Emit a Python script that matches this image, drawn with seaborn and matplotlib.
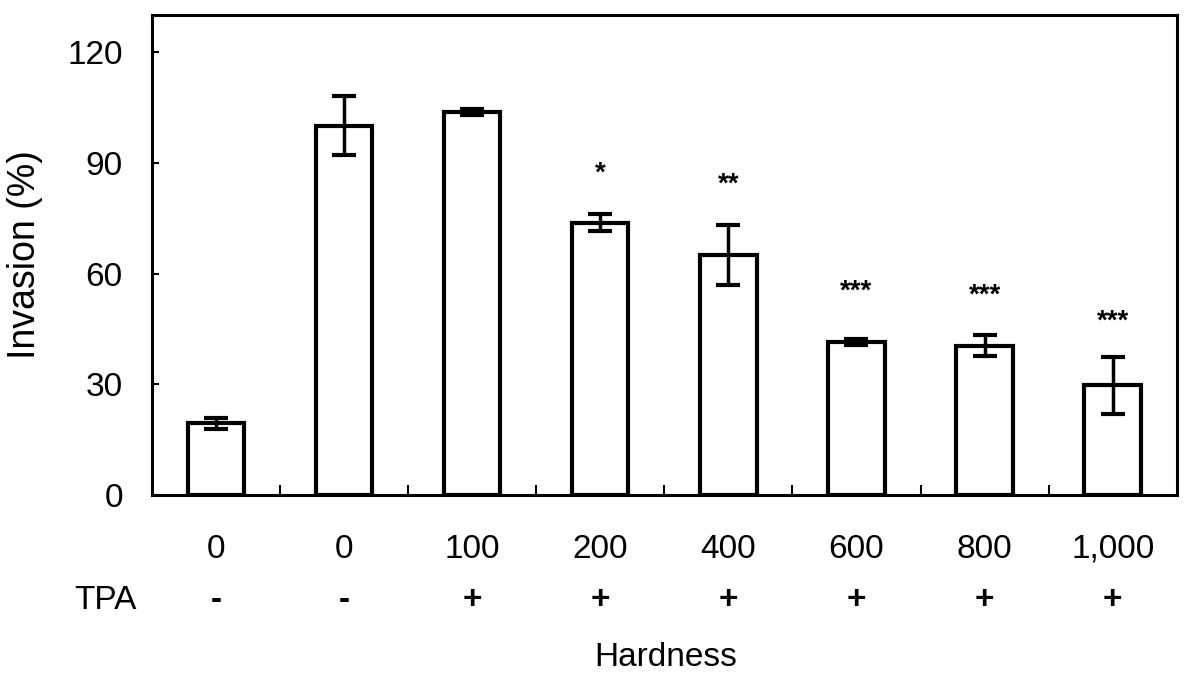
import seaborn as sns
import matplotlib.pyplot as plt
import matplotlib.transforms as mtransforms
import pandas as pd

# valeurs
hardness = ["0", "0", "100", "200", "400", "600", "800", "1,000"]
tpa = ["-", "-", "+", "+", "+", "+", "+", "+"]
invasion = [19.5, 100, 103.8, 73.8, 64.9, 41.4, 40.5, 29.7]
err = [1.5, 8, 0.8, 2.2, 8.1, 0.8, 2.8, 7.7]
stars = ["", "", "", "*", "**", "***", "***", "***"]
star_y = [0, 0, 0, 87, 84, 55, 54, 47]

sns.set_style("ticks")
plt.rcParams['font.family'] = ['Liberation Sans', 'DejaVu Sans']
plt.rcParams['text.color'] = 'black'
plt.rcParams['xtick.color'] = 'black'
plt.rcParams['ytick.color'] = 'black'
plt.rcParams['axes.edgecolor'] = 'black'
plt.rcParams['axes.labelcolor'] = 'black'

df = pd.DataFrame({"pos": [str(i) for i in range(len(hardness))], "invasion": invasion})

fig = plt.figure(figsize=(11.91, 6.81), dpi=100)
ax = fig.add_axes([0.1276, 0.273, 0.8604, 0.705])

sns.barplot(data=df, x="pos", y="invasion", ax=ax, fill=False, edgecolor="black",
            linewidth=3, width=0.44, errorbar=None)
# barres d'erreur
ax.errorbar(range(len(invasion)), invasion, yerr=err, fmt="none", ecolor="black",
            elinewidth=2.5, capsize=8.5, capthick=3)

for i, s in enumerate(stars):
    if s:
        ax.text(i, star_y[i], s, ha="center", va="center", fontsize=20, fontweight="bold")

ax.set_xlim(-0.5, len(hardness) - 0.5)
ax.set_ylim(0, 130)
ax.set_yticks([0, 30, 60, 90, 120])
ax.tick_params(axis="y", direction="in", length=5, width=1.5, labelsize=24, pad=21)
ax.set_xticks(range(len(hardness)))
ax.set_xticklabels(hardness)
ax.tick_params(axis="x", length=0, labelsize=24, pad=28)
ax.set_xticks([i + 0.5 for i in range(len(hardness) - 1)], minor=True)
ax.tick_params(axis="x", which="minor", direction="in", length=7, width=1.5)
ax.set_xlabel("")
ax.set_ylabel("Invasion (%)", fontsize=27)
ax.yaxis.set_label_coords(-0.106, 0.5)
for sp in ax.spines.values():
    sp.set_visible(True)
    sp.set_linewidth(2.2)

# ligne TPA sous les étiquettes
trans = mtransforms.blended_transform_factory(ax.transData, ax.transAxes)
for i, t in enumerate(tpa):
    ax.text(i, -0.219, t, transform=trans, ha="center", va="center", fontsize=24, fontweight="bold")
ax.text(-0.0146, -0.219, "TPA", transform=ax.transAxes, ha="right", va="center", fontsize=24)
fig.text(0.559, 0.035, "Hardness", ha="center", va="center", fontsize=24)

fig.savefig("out.png", dpi=100)
